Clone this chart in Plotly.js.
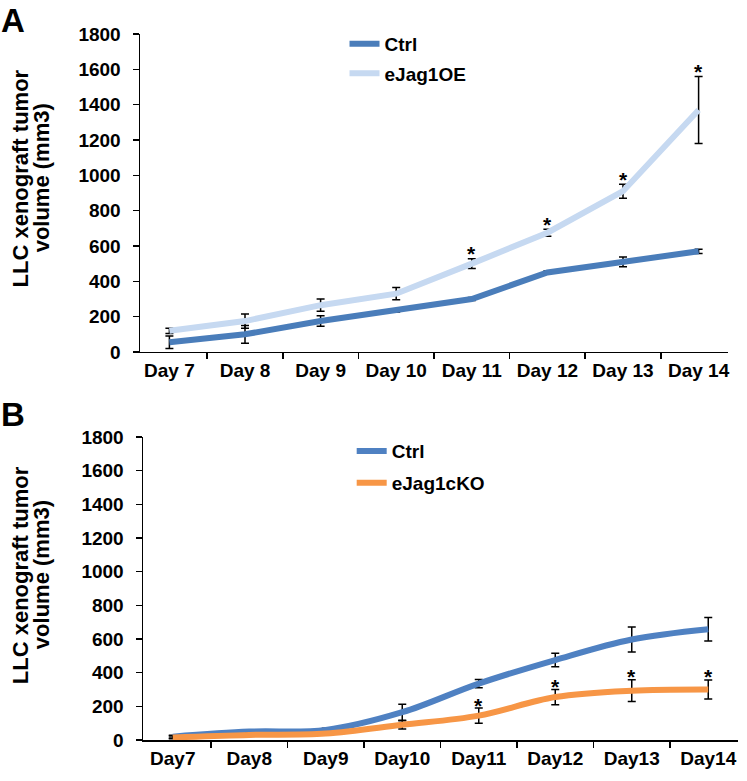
<!DOCTYPE html>
<html>
<head>
<meta charset="utf-8">
<script src="https://cdn.plot.ly/plotly-3.0.1.min.js"></script>
<style>html,body{margin:0;padding:0;background:#fff;}#chart{width:747px;height:781px;}</style>
</head>
<body>
<div id="chart"></div>
<script>
// ---- Panel A data ----
var daysA = ['Day 7','Day 8','Day 9','Day 10','Day 11','Day 12','Day 13','Day 14'];
var ctrlA = [55, 100, 175, 235, 300, 450, 510, 570];
var ctrlAerr = [35, 50, 30, 8, 8, 8, 28, 12];
var oeA = [120, 175, 265, 330, 500, 675, 910, 1370];
var oeAerr = [15, 40, 35, 35, 28, 20, 40, 190];
var sigA = [0, 0, 0, 0, 1, 1, 1, 1];

// ---- Panel B data ----
var daysB = ['Day7','Day8','Day9','Day10','Day11','Day12','Day13','Day14'];
var ctrlB = [20, 50, 60, 165, 335, 475, 597, 658];
var ctrlBerr = [8, 10, 10, 48, 25, 40, 74, 70];
var koB = [15, 30, 38, 90, 145, 255, 293, 300];
var koBerr = [8, 8, 8, 25, 45, 45, 65, 57];
var sigB = [0, 0, 0, 0, 1, 1, 1, 1];

var titleLines = ['LLC xenograft tumor', 'volume (mm3)'];

var FONT = 'Arial, "Liberation Sans", sans-serif';
var bold = function(s){ return {family: FONT, size: s, color: '#000', weight: 'bold'}; };
var eb = function(arr){ return {type:'data', array: arr, visible: true, color:'#000', thickness:1.5, width:4}; };

var traces = [
  {x: daysA, y: ctrlA, name: 'Ctrl', type: 'scatter', mode: 'lines', xaxis: 'x', yaxis: 'y',
   line: {color: '#4a7dba', width: 6}, error_y: eb(ctrlAerr), legend: 'legend', legendgroup: 'a1'},
  {x: daysA, y: oeA, name: 'eJag1OE', type: 'scatter', mode: 'lines', xaxis: 'x', yaxis: 'y',
   line: {color: '#c6d9f1', width: 6}, error_y: eb(oeAerr), legend: 'legend', legendgroup: 'a2'},
  {x: daysB, y: ctrlB, name: 'Ctrl', type: 'scatter', mode: 'lines', xaxis: 'x2', yaxis: 'y2',
   line: {color: '#4f81c2', width: 6, shape: 'spline'}, error_y: eb(ctrlBerr), legend: 'legend2', legendgroup: 'b1'},
  {x: daysB, y: koB, name: 'eJag1cKO', type: 'scatter', mode: 'lines', xaxis: 'x2', yaxis: 'y2',
   line: {color: '#f79646', width: 6, shape: 'spline'}, error_y: eb(koBerr), legend: 'legend2', legendgroup: 'b2'}
];

var annotations = [];
daysA.forEach(function(d, i){
  if (sigA[i]) annotations.push({xref:'x', yref:'y', x: d, y: oeA[i] + oeAerr[i], text: '*', showarrow: false,
    yanchor: 'middle', yshift: 5, font: bold(21)});
});
daysB.forEach(function(d, i){
  if (sigB[i]) annotations.push({xref:'x2', yref:'y2', x: d, y: koB[i] + koBerr[i], text: '*', showarrow: false,
    yanchor: 'middle', yshift: 3, font: bold(21)});
});
// y-axis titles (two tight lines each) and panel letters
var titleX = [-0.2, -0.165];
[0.796, 0.234].forEach(function(yc){
  titleLines.forEach(function(t, k){
    annotations.push({xref:'paper', yref:'paper', x: titleX[k], y: yc, text: t, textangle: -90, showarrow: false,
      xanchor: 'center', yanchor: 'middle', font: bold(22)});
  });
});
annotations.push({xref:'paper', yref:'paper', x: -0.212, y: 1.048, text: 'A', showarrow: false,
  xanchor: 'center', yanchor: 'top', font: bold(33)});
annotations.push({xref:'paper', yref:'paper', x: -0.212, y: 0.490, text: 'B', showarrow: false,
  xanchor: 'center', yanchor: 'top', font: bold(33)});

var xax = function(domain, anchor){ return {domain: domain, anchor: anchor, type: 'category', showline: true, linecolor: '#000', linewidth: 1.5,
  ticks: 'outside', ticklen: 6, tickwidth: 1.5, tickcolor: '#000', tickson: 'boundaries', showgrid: false, zeroline: false,
  tickfont: bold(19), automargin: false, ticklabelstandoff: 1, fixedrange: true}; };
var yax = function(domain, anchor){ return {domain: domain, anchor: anchor, range: [0, 1800], dtick: 200, tick0: 0, showline: true,
  linecolor: '#000', linewidth: 1.5, ticks: 'outside', ticklen: 6, tickwidth: 1.5, tickcolor: '#000', showgrid: false,
  zeroline: false, tickfont: bold(19), automargin: false, ticklabelstandoff: 8, fixedrange: true}; };

var layout = {
  width: 747, height: 781,
  margin: {l: 140, r: 9, t: 34, b: 41},
  paper_bgcolor: '#fff', plot_bgcolor: '#fff',
  showlegend: true,
  font: {family: FONT, color: '#000'},
  xaxis: xax([0, 588/598], 'y'),
  yaxis: yax([0.5496, 1], 'x'),
  xaxis2: xax([3/598, 1], 'y2'),
  yaxis2: yax([0, 0.4292], 'x2'),
  legend: {x: 0.342, y: 1.013, xanchor: 'left', yanchor: 'top', bgcolor: 'rgba(0,0,0,0)', font: bold(19),
    traceorder: 'grouped', tracegroupgap: 2, itemwidth: 30},
  legend2: {x: 0.354, y: 0.436, xanchor: 'left', yanchor: 'top', bgcolor: 'rgba(0,0,0,0)', font: bold(19),
    traceorder: 'grouped', tracegroupgap: 4, itemwidth: 30},
  annotations: annotations
};

Plotly.newPlot('chart', traces, layout, {displayModeBar: false, staticPlot: true});
</script>
</body>
</html>
